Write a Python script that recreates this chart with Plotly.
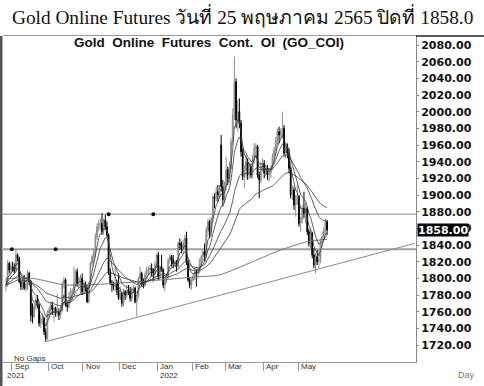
import pandas as pd
import plotly.graph_objects as go

# ---------------- data ----------------
dates = pd.bdate_range("2021-08-26", "2022-05-25")  # 195 daily bars, "No Gaps"

opens = [1790,1792,1818,1810,1814,1813,1810,1828,1824,1796,1790,1796,1788,1794,1806,1796,1756,1754,1766,1774,
         1768,1746,1752,1752,1736,1728,1758,1762,1768,1762,1764,1758,1760,1756,1762,1794,1798,1768,1766,1772,
         1784,1784,1794,1808,1794,1800,1800,1784,1794,1788,1772,1794,1818,1826,1832,1850,1862,1866,1866,1856,
         1870,1862,1852,1808,1794,1792,1790,1794,1786,1776,1782,1770,1784,1780,1786,1784,1776,1784,1788,1772,
         1778,1800,1806,1794,1792,1804,1810,1810,1812,1810,1806,1816,1828,1802,1814,1810,1792,1798,1802,1822,
         1826,1822,1818,1820,1814,1842,1840,1836,1842,1848,1820,1798,1792,1798,1802,1808,1806,1808,1820,1826,
         1832,1828,1858,1868,1856,1872,1898,1896,1904,1900,1960,1910,1894,1910,1930,1920,1932,1964,1996,2036,
         1990,2000,1986,1952,1922,1930,1940,1924,1934,1924,1944,1956,1958,1924,1918,1934,1938,1926,1932,1924,
         1926,1932,1946,1954,1966,1976,1972,1976,1980,1950,1958,1950,1932,1900,1906,1888,1894,1898,1866,1870,
         1884,1878,1884,1856,1842,1854,1828,1816,1826,1820,1822,1846,1850,1858,1868]
highs = [1800,1822,1820,1818,1820,1818,1834,1830,1826,1800,1800,1804,1798,1810,1808,1798,1770,1770,1778,1780,
         1770,1756,1758,1754,1740,1762,1766,1772,1772,1766,1766,1782,1764,1768,1796,1802,1800,1772,1784,1788,
         1788,1814,1810,1812,1802,1804,1806,1798,1796,1792,1796,1820,1828,1836,1854,1866,1870,1872,1878,1872,
         1876,1868,1854,1812,1798,1796,1816,1798,1806,1790,1784,1788,1786,1792,1792,1790,1790,1792,1790,1780,
         1802,1814,1808,1800,1808,1814,1814,1816,1818,1812,1820,1830,1832,1816,1828,1812,1800,1806,1824,1830,
         1828,1828,1822,1822,1844,1848,1844,1846,1852,1856,1822,1802,1800,1806,1812,1810,1814,1824,1828,1836,
         1842,1862,1872,1870,1874,1900,1902,1910,1912,1912,1972,1918,1916,1946,1934,1940,1968,2004,2066,2040,
         2014,2016,1990,1956,1936,1948,1944,1940,1938,1948,1962,1962,1960,1928,1940,1944,1942,1936,1936,1932,
         1936,1950,1958,1970,1980,1982,1980,2000,1984,1962,1962,1956,1934,1912,1910,1900,1912,1900,1874,1888,
         1904,1890,1886,1860,1858,1856,1836,1830,1834,1834,1848,1856,1862,1872,1870]
lows = [1784,1790,1806,1802,1808,1806,1808,1820,1794,1786,1786,1786,1784,1786,1792,1748,1746,1752,1762,1764,
        1742,1740,1744,1732,1724,1726,1752,1756,1756,1748,1754,1754,1750,1752,1760,1788,1766,1760,1764,1770,
        1774,1780,1792,1790,1788,1782,1780,1782,1784,1770,1770,1790,1814,1818,1824,1846,1856,1858,1852,1852,
        1858,1850,1804,1792,1784,1786,1784,1780,1774,1774,1766,1766,1774,1776,1780,1772,1772,1782,1770,1754,
        1776,1796,1790,1788,1790,1800,1804,1804,1802,1796,1800,1812,1798,1798,1808,1788,1784,1794,1800,1818,
        1814,1812,1814,1808,1812,1834,1830,1830,1836,1816,1796,1788,1786,1796,1798,1790,1800,1806,1814,1822,
        1820,1824,1850,1848,1850,1868,1884,1892,1892,1896,1904,1886,1890,1906,1912,1914,1930,1960,1990,1980,
        1976,1980,1946,1918,1908,1920,1918,1920,1920,1920,1938,1946,1920,1896,1914,1928,1920,1922,1918,1916,
        1920,1930,1940,1948,1960,1962,1968,1970,1946,1944,1944,1926,1896,1894,1882,1874,1888,1862,1856,1866,
        1872,1866,1852,1838,1836,1824,1812,1806,1816,1812,1818,1838,1846,1852,1852]
closes = [1792,1818,1810,1814,1813,1810,1828,1824,1796,1790,1796,1788,1794,1806,1796,1756,1754,1766,1774,1768,
          1746,1752,1752,1736,1728,1758,1762,1768,1762,1764,1758,1760,1756,1762,1794,1798,1768,1766,1772,1784,
          1784,1794,1808,1794,1800,1800,1784,1794,1788,1772,1794,1818,1826,1832,1850,1862,1866,1866,1856,1870,
          1862,1852,1808,1794,1792,1790,1794,1786,1776,1782,1770,1784,1780,1786,1784,1776,1784,1788,1772,1778,
          1800,1806,1794,1792,1804,1810,1810,1812,1810,1806,1816,1828,1802,1814,1810,1792,1798,1802,1822,1826,
          1822,1818,1820,1814,1842,1840,1836,1842,1848,1820,1798,1792,1798,1802,1808,1806,1808,1820,1826,1832,
          1828,1858,1868,1856,1872,1898,1896,1904,1900,1908,1910,1894,1910,1930,1920,1932,1964,1996,2036,1990,
          2000,1986,1952,1922,1930,1940,1924,1934,1924,1944,1956,1958,1924,1918,1934,1938,1926,1932,1924,1926,
          1932,1946,1954,1966,1976,1972,1976,1980,1950,1958,1950,1932,1900,1906,1888,1894,1898,1866,1870,1884,
          1878,1884,1856,1842,1854,1828,1816,1826,1820,1822,1846,1850,1858,1868,1858]

ema_spans = [5, 10, 25, 50]                      # moving averages drawn on the chart
long_ma_days = [0, 16, 36, 57, 81, 105, 117, 129, 149, 166, 182, 194]
long_ma_values = [1800, 1800, 1792, 1793, 1796, 1800, 1802, 1804, 1820, 1834, 1844, 1847]
trend_days = [24, 247]
trend_values = [1724, 1842]
level_values = [1877, 1835]
level_widths = [1.2, 2.0]
level_anchor_days = [[62, 89], [3.5, 30]]
last_close = 1858.0
y_ticks = list(range(1720, 2081, 20))
month_names = ["Sep", "Oct", "Nov", "Dec", "Jan", "Feb", "Mar", "Apr", "May"]

main_title = "Gold Online Futures วันที่ 25 พฤษภาคม 2565 ปิดที่ 1858.0"
sub_title = "Gold  Online  Futures  Cont.  OI  (GO_COI)"

# ---------------- figure ----------------
day_idx = list(range(len(dates)))
month_starts = []
for k in range(1, len(dates)):
    if dates[k].month != dates[k - 1].month:
        month_starts.append(k - 0.5)
years_at = {-1.5: "2021"}
for b in month_starts:
    if dates[int(b + 0.5)].month == 1:
        years_at[b] = "2022"

fig = go.Figure()

for lv, lw in zip(level_values, level_widths):
    fig.add_hline(y=lv, line=dict(color="#a0a0a0", width=lw), layer="below")

fig.add_trace(go.Scatter(x=trend_days, y=trend_values, mode="lines",
                         line=dict(color="#8c8c8c", width=1), hoverinfo="skip"))
fig.add_trace(go.Scatter(x=long_ma_days, y=long_ma_values, mode="lines",
                         line=dict(color="#7a7a7a", width=1, shape="spline", smoothing=0.6),
                         hoverinfo="skip"))

fig.add_trace(go.Candlestick(
    x=day_idx, open=opens, high=highs, low=lows, close=closes,
    increasing=dict(line=dict(color="#8f8f8f", width=1), fillcolor="#8f8f8f"),
    decreasing=dict(line=dict(color="#000000", width=1), fillcolor="#000000"),
    whiskerwidth=0, hoverinfo="skip"))

cs = pd.Series(closes, dtype=float)
for sp in ema_spans:
    fig.add_trace(go.Scatter(x=day_idx, y=cs.ewm(span=sp, adjust=False).mean().round(1).tolist(),
                             mode="lines", line=dict(color="#3c3c3c", width=0.8), hoverinfo="skip"))

for lv, days in zip(level_values, level_anchor_days):
    fig.add_trace(go.Scatter(x=days, y=[lv] * len(days), mode="markers",
                             marker=dict(color="#111", size=4), hoverinfo="skip"))

PH = 326.0  # plot height px
PW = 413.0

annotations = [
    dict(text=main_title, xref="paper", yref="paper", x=(242 - 3) / PW, y=(362 - 16) / PH,
         xanchor="center", yanchor="middle", showarrow=False,
         font=dict(family="Liberation Serif", size=19.3, color="#111")),
    dict(text=sub_title, xref="paper", yref="paper", x=(209 - 3) / PW, y=(362 - 42) / PH,
         xanchor="center", yanchor="middle", showarrow=False,
         font=dict(family="Liberation Sans", size=13.5, color="#111", weight="bold")),
    dict(text="No Gaps", xref="paper", yref="paper", x=9 / PW, y=(362 - 358) / PH,
         xanchor="left", yanchor="middle", showarrow=False,
         font=dict(family="Liberation Sans", size=8, color="#333")),
    dict(text="Day", xref="paper", yref="paper", x=(466 - 3) / PW, y=(362 - 375) / PH,
         xanchor="center", yanchor="middle", showarrow=False,
         font=dict(family="Liberation Sans", size=9, color="#777")),
    dict(text=f"{last_close:.2f}", xref="paper", yref="y", x=1, y=last_close, xanchor="left",
         yanchor="middle", xshift=1, showarrow=False, bgcolor="#000", borderpad=0, height=12,
         font=dict(family="DejaVu Sans", size=11, color="white", weight="bold")),
]
for b, name in zip(month_starts, month_names):
    annotations.append(dict(text=name, xref="x", yref="paper", x=b, y=0, yshift=-4, xshift=1,
                            xanchor="left", yanchor="middle", showarrow=False,
                            font=dict(family="Liberation Sans", size=8, color="#333")))
for b, name in years_at.items():
    annotations.append(dict(text=name, xref="x", yref="paper", x=b, y=0, yshift=-13, xshift=1,
                            xanchor="left", yanchor="middle", showarrow=False,
                            font=dict(family="Liberation Sans", size=8, color="#333")))

shapes = [
    dict(type="line", xref="paper", yref="paper", x0=0, x1=1, y0=-8 / PH, y1=-8 / PH,
         line=dict(color="#999", width=1)),
    dict(type="line", xref="paper", yref="paper", x0=1, x1=1, y0=0, y1=-24 / PH,
         line=dict(color="#888", width=1)),
    dict(type="line", xref="paper", yref="paper", x0=1, x1=(484 - 3) / PW, y0=1, y1=1,
         line=dict(color="#222", width=1.5)),
    dict(type="line", xref="paper", yref="paper", x0=-2 / PW, x1=-2 / PW, y0=1, y1=-24 / PH,
         line=dict(color="#555", width=3)),
]

fig.update_layout(
    width=484, height=386, margin=dict(l=3, r=68, t=36, b=24),
    paper_bgcolor="white", plot_bgcolor="white", showlegend=False,
    annotations=annotations, shapes=shapes,
    xaxis=dict(range=[-1.8, 247.7], showgrid=False, zeroline=False,
               rangeslider=dict(visible=False), tickmode="array", tickvals=month_starts,
               ticktext=[""] * len(month_starts), ticks="outside", ticklen=8, tickcolor="#999",
               showline=True, linecolor="#999", mirror=True),
    yaxis=dict(side="right", range=[1699.6, 2090.8], tickmode="array", tickvals=y_ticks,
               ticktext=[f"{v:.2f}" for v in y_ticks], showgrid=False, zeroline=False,
               showline=True, linecolor="#888", ticks="outside", ticklen=2, tickcolor="#888",
               tickfont=dict(family="DejaVu Sans", size=11, color="#111", weight="bold")),
)

fig.write_html("out.html", config={"displayModeBar": False},
               post_script="document.body.style.margin='0px';")
